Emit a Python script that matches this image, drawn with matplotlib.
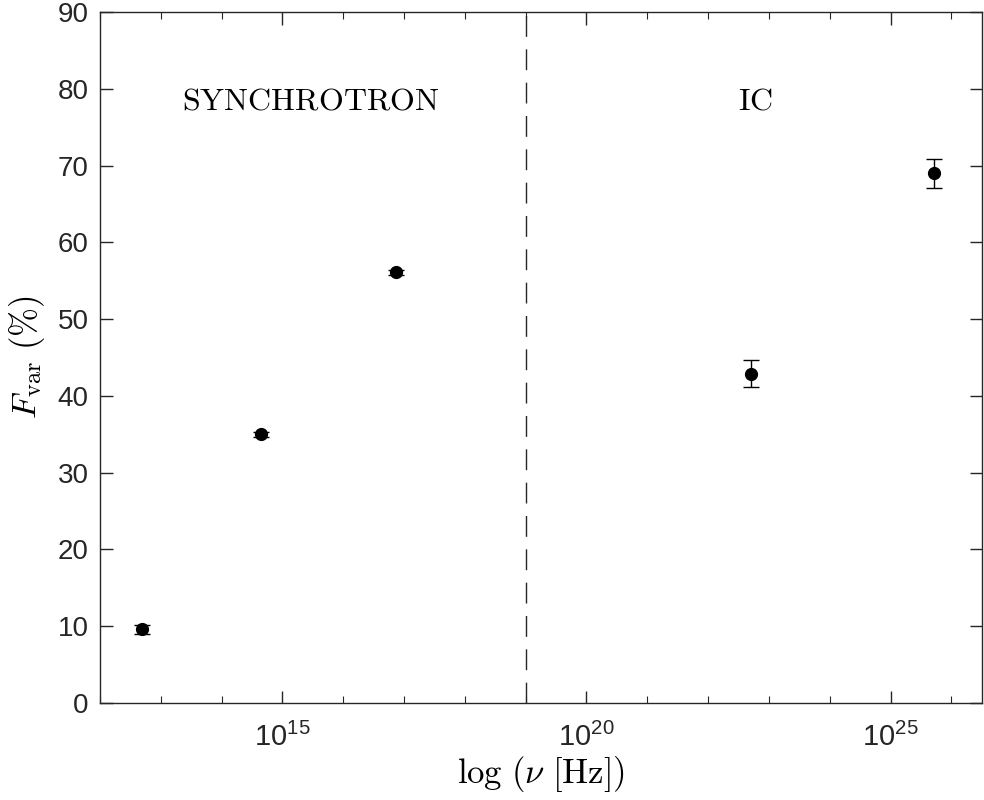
import matplotlib
matplotlib.use('Agg')
import matplotlib.pyplot as plt
import numpy as np
from matplotlib.ticker import FixedLocator, FuncFormatter, NullFormatter

plt.rcParams['font.family'] = ['Liberation Sans', 'DejaVu Sans']
plt.rcParams['mathtext.fontset'] = 'custom'
plt.rcParams['mathtext.rm'] = 'Liberation Sans'
plt.rcParams['mathtext.it'] = 'Liberation Sans:italic'
plt.rcParams['mathtext.bf'] = 'Liberation Sans:bold'

# data
freq = [5.0e12, 4.5e14, 7.4e16, 5.0e22, 5.1e25]
fvar = [9.6, 35.0, 56.1, 42.9, 69.0]
fvar_err = [0.6, 0.35, 0.35, 1.8, 1.9]
split_freq = 1e19
region_labels = ['SYNCHROTRON', 'IC']
region_pos = [10**15.47, 10**22.78]

axcol = (0.15, 0.15, 0.15)

fig = plt.figure(figsize=(9.84, 8.0), dpi=100)
ax = fig.add_axes([0.1016, 0.12125, 0.8961, 0.86375])

ax.errorbar(freq, fvar, yerr=fvar_err, fmt='o', color='black', markersize=8.5,
            elinewidth=1, capsize=6, capthick=1, zorder=3)

ax.axvline(split_freq, color=axcol, linewidth=1, dashes=(15, 9))

for lab, xp in zip(region_labels, region_pos):
    ax.text(xp, 78.3, r'$\mathrm{%s}$' % lab, ha='center', va='center',
            fontsize=23, math_fontfamily='cm', color='black')

ax.set_xscale('log')
ax.set_xlim(1e12, 10**26.5)
ax.set_ylim(0, 90)

ax.xaxis.set_major_locator(FixedLocator([1e15, 1e20, 1e25]))
ax.xaxis.set_minor_locator(FixedLocator([10.0**k for k in range(12, 27)]))
ax.xaxis.set_major_formatter(FuncFormatter(
    lambda v, p: r'$\mathregular{10^{%d}}$' % int(round(np.log10(v)))))
ax.xaxis.set_minor_formatter(NullFormatter())
ax.set_yticks(np.arange(0, 91, 10))

ax.tick_params(which='both', direction='in', top=True, right=True,
               colors=axcol, labelcolor=axcol)
ax.tick_params(axis='y', labelsize=20, pad=8)
ax.tick_params(axis='x', labelsize=21, pad=14)
ax.tick_params(which='major', length=9, width=1)
ax.tick_params(which='minor', length=5, width=0.8)
for s in ax.spines.values():
    s.set_color(axcol)
    s.set_linewidth(1)

ax.set_xlabel(r'$\log\,(\nu\ [\mathrm{Hz}])$', fontsize=25, math_fontfamily='cm',
              color='black', labelpad=2)
ax.set_ylabel(r'$F_{\rm var}\ (\%)$', fontsize=25, math_fontfamily='cm',
              color='black', labelpad=8)

fig.savefig('out.png', dpi=100)
